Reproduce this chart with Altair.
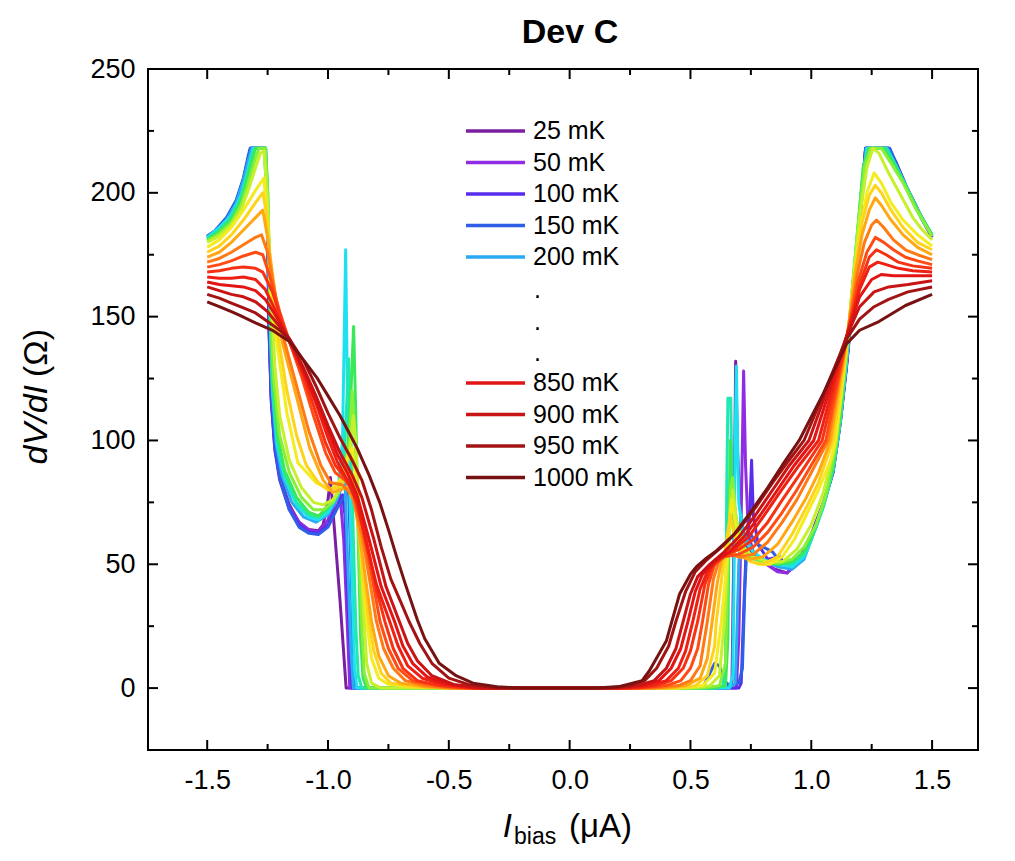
import altair as alt
import pandas as pd

# ---------------- data ----------------
TEMPS_MK = [25, 50, 100, 150, 200, 250, 300, 350, 400, 450, 500,
            550, 600, 650, 700, 750, 800, 850, 900, 950, 1000]
COLORS = ["#7b1fa2", "#8e2de2", "#5a2ded", "#2f5fe6", "#2aaaf2", "#1fe0f0",
          "#1fe8b0", "#3ae85a", "#86ef3a", "#c6f02c", "#f4ec1e", "#ffd21c",
          "#ffa814", "#ff7a14", "#ff4c14", "#f73214", "#ee2014", "#e31414",
          "#c81414", "#a21414", "#781212"]

C025 = [(-1.5,182),(-1.47,184),(-1.42,189),(-1.38,196),(-1.35,205),(-1.33,213),(-1.32,218),(-1.26,218),(-1.25,190),(-1.245,150),(-1.235,118),(-1.22,98),(-1.2,86),(-1.16,74),(-1.12,67),(-1.08,64),(-1.04,63.5),(-1.02,66),(-1.0,76),(-0.99,85),(-0.975,66),(-0.95,35),(-0.925,0),(0.66,0),(0.672,3),(0.68,60),(0.687,132),(0.695,95),(0.71,66),(0.73,58),(0.78,52),(0.85,48),(0.9,46.5),(0.95,52),(1.0,62),(1.05,75),(1.09,88),(1.12,108),(1.146,131),(1.17,155),(1.19,176),(1.21,201),(1.225,218),(1.32,218),(1.35,212),(1.394,202),(1.43,195),(1.46,189),(1.5,182)]
C050 = [(-1.5,182),(-1.47,184),(-1.42,189),(-1.38,196),(-1.35,205),(-1.33,214),(-1.32,218),(-1.26,218),(-1.25,188),(-1.245,148),(-1.235,117),(-1.22,97),(-1.2,85),(-1.16,73),(-1.12,67),(-1.08,64),(-1.04,63),(-1.0,68),(-0.97,75),(-0.95,78),(-0.935,60),(-0.92,25),(-0.91,0),(0.69,0),(0.7,20),(0.71,70),(0.72,128),(0.728,90),(0.74,62),(0.76,55),(0.8,51),(0.86,47),(0.9,46.5),(0.95,51),(1.0,61),(1.05,74),(1.09,87),(1.12,107),(1.146,130),(1.17,154),(1.19,174),(1.21,199),(1.225,218),(1.32,218),(1.35,212),(1.394,202),(1.43,195),(1.46,189),(1.5,182)]
C100 = [(-1.5,182.5),(-1.47,184.5),(-1.42,189.5),(-1.38,196.5),(-1.35,205.5),(-1.33,214),(-1.32,218),(-1.26,218),(-1.25,188),(-1.245,147),(-1.235,116),(-1.22,96),(-1.2,84),(-1.16,72),(-1.12,66),(-1.08,63),(-1.04,62.5),(-1.0,66),(-0.96,74),(-0.94,78),(-0.93,70),(-0.915,30),(-0.9,0),(0.7,0),(0.71,2),(0.72,30),(0.73,55),(0.745,70),(0.753,92),(0.76,70),(0.78,58),(0.82,52),(0.87,53),(0.9,49),(0.95,51),(1.0,61),(1.05,74),(1.09,87),(1.12,107),(1.146,130),(1.17,155),(1.19,175),(1.21,200),(1.225,218),(1.32,218),(1.35,212.5),(1.394,202.5),(1.43,195.5),(1.46,189.5),(1.5,182.5)]
C150 = [(-1.5,182.5),(-1.47,184.5),(-1.42,190),(-1.38,197),(-1.35,206),(-1.33,215),(-1.322,218),(-1.258,218),(-1.25,192),(-1.243,150),(-1.233,118),(-1.218,97),(-1.2,85),(-1.16,72),(-1.12,65),(-1.08,62.5),(-1.04,62),(-1.0,65),(-0.96,73),(-0.93,78),(-0.915,80),(-0.905,50),(-0.895,10),(-0.885,0),(0.55,0),(0.58,6),(0.6,10),(0.62,9),(0.64,3),(0.66,1),(0.7,2),(0.715,8),(0.725,40),(0.735,60),(0.75,62),(0.775,58),(0.8,57),(0.84,55),(0.88,50),(0.93,50),(0.98,56),(1.02,65),(1.06,77),(1.09,88),(1.12,108),(1.146,131),(1.17,156),(1.19,176),(1.21,201),(1.225,218),(1.325,218),(1.36,210),(1.4,201),(1.44,193),(1.47,188),(1.5,183)]
C200 = [(-1.5,182),(-1.47,184),(-1.42,189),(-1.38,196),(-1.35,205),(-1.33,213),(-1.315,218),(-1.26,218),(-1.25,192),(-1.24,150),(-1.23,120),(-1.215,99),(-1.19,86),(-1.15,75),(-1.1,69),(-1.05,67),(-1.0,70),(-0.96,77),(-0.94,82),(-0.93,85),(-0.92,55),(-0.905,15),(-0.895,0),(0.66,0),(0.685,2),(0.69,15),(0.7,50),(0.71,70),(0.72,63),(0.76,55),(0.8,52),(0.86,49),(0.92,48),(0.97,52),(1.0,60),(1.05,74),(1.09,88),(1.12,108),(1.146,132),(1.17,157),(1.19,177),(1.21,202),(1.228,218),(1.315,218),(1.35,211),(1.39,203),(1.43,195),(1.46,189),(1.5,183)]
C250 = [(-1.5,182),(-1.45,186),(-1.4,191),(-1.36,199),(-1.33,210),(-1.31,218),(-1.265,218),(-1.25,195),(-1.24,150),(-1.23,120),(-1.21,98),(-1.18,85),(-1.13,74),(-1.08,69),(-1.04,68),(-1.0,71),(-0.96,78),(-0.94,100),(-0.927,177),(-0.92,120),(-0.91,80),(-0.9,40),(-0.89,8),(-0.88,0),(0.66,0),(0.675,5),(0.68,40),(0.685,100),(0.69,130),(0.695,100),(0.7,75),(0.72,60),(0.76,55),(0.8,52),(0.86,50),(0.92,49),(0.97,53),(1.0,60),(1.05,74),(1.09,88),(1.12,108),(1.146,132),(1.17,157),(1.19,177),(1.21,203),(1.23,218),(1.31,218),(1.35,211),(1.39,203),(1.43,195),(1.46,189),(1.5,183)]
C300 = [(-1.5,181.5),(-1.45,185),(-1.4,190),(-1.36,198),(-1.33,209),(-1.305,218),(-1.26,218),(-1.25,200),(-1.24,155),(-1.23,122),(-1.21,100),(-1.18,86),(-1.13,75),(-1.08,70),(-1.04,69),(-1.0,72),(-0.96,78),(-0.935,90),(-0.92,120),(-0.915,133),(-0.905,100),(-0.895,60),(-0.885,25),(-0.875,5),(-0.86,0),(0.6,0),(0.635,1),(0.645,10),(0.65,80),(0.655,117),(0.667,117),(0.672,80),(0.685,62),(0.7,56),(0.74,53),(0.8,51),(0.86,50),(0.92,50),(0.97,54),(1.0,60),(1.05,73),(1.09,88),(1.12,108),(1.146,134),(1.17,160),(1.19,182),(1.215,210),(1.235,218),(1.31,218),(1.35,211),(1.39,203),(1.43,195),(1.46,189.5),(1.5,183)]
C350 = [(-1.5,181),(-1.45,184.5),(-1.4,189.5),(-1.36,197),(-1.33,207),(-1.3,218),(-1.258,218),(-1.25,202),(-1.24,158),(-1.228,124),(-1.21,103),(-1.18,88),(-1.13,77),(-1.08,71),(-1.04,69.5),(-1.0,73),(-0.95,80),(-0.92,95),(-0.905,120),(-0.894,146),(-0.885,110),(-0.875,60),(-0.865,20),(-0.855,4),(-0.84,0),(0.6,0),(0.645,1),(0.655,20),(0.66,70),(0.665,100),(0.672,80),(0.68,65),(0.7,57),(0.75,53),(0.8,51),(0.86,50),(0.92,51),(0.97,55),(1.0,61),(1.05,74),(1.09,89),(1.12,109),(1.146,135),(1.17,161),(1.19,183),(1.215,210),(1.24,218),(1.3,218),(1.34,212),(1.39,203),(1.43,195),(1.46,189.5),(1.5,183)]
C400 = [(-1.5,180.5),(-1.45,183.5),(-1.4,188),(-1.36,195),(-1.33,204),(-1.3,214),(-1.285,218),(-1.26,218),(-1.25,200),(-1.24,158),(-1.225,125),(-1.2,102),(-1.16,87),(-1.11,77),(-1.06,72),(-1.02,72),(-0.98,75),(-0.94,82),(-0.91,100),(-0.9,120),(-0.89,105),(-0.875,65),(-0.86,25),(-0.85,6),(-0.83,0),(0.55,0),(0.62,1),(0.645,10),(0.655,50),(0.665,80),(0.675,85),(0.685,72),(0.7,60),(0.74,54),(0.8,51),(0.86,50.5),(0.92,52),(0.97,57),(1.02,66),(1.06,78),(1.1,97),(1.146,136),(1.17,162),(1.195,188),(1.22,210),(1.245,218),(1.29,218),(1.33,212),(1.38,204),(1.43,194),(1.46,189),(1.5,182.5)]
C450 = [(-1.5,180),(-1.45,182.5),(-1.4,187),(-1.36,193),(-1.33,201),(-1.3,210),(-1.28,216),(-1.265,217),(-1.25,196),(-1.235,160),(-1.22,130),(-1.2,110),(-1.16,92),(-1.11,81),(-1.06,75),(-1.02,74),(-0.98,76),(-0.94,82),(-0.91,95),(-0.895,110),(-0.885,100),(-0.87,70),(-0.855,35),(-0.84,10),(-0.82,2),(-0.78,0),(0.5,0),(0.58,1),(0.62,5),(0.64,27),(0.655,55),(0.665,72),(0.675,80),(0.69,68),(0.72,57),(0.76,53),(0.82,51),(0.88,51),(0.94,56),(1.0,66),(1.05,79),(1.1,99),(1.146,137),(1.175,165),(1.2,190),(1.23,210),(1.255,218),(1.28,216),(1.32,208),(1.37,199),(1.42,190),(1.46,185),(1.5,181)]
C500 = [(-1.5,178),(-1.45,181),(-1.4,186),(-1.35,193),(-1.3,201),(-1.265,206),(-1.25,185),(-1.235,158),(-1.21,138),(-1.17,111),(-1.125,91),(-1.05,83),(-0.99,80),(-0.95,84),(-0.915,95),(-0.9,97),(-0.88,78),(-0.86,50),(-0.84,27),(-0.82,12),(-0.79,4),(-0.75,1.5),(-0.65,0.5),(-0.5,0),(0.45,0),(0.55,1),(0.6,6),(0.628,27),(0.645,45),(0.66,65),(0.67,76),(0.68,70),(0.7,58),(0.74,52),(0.78,50),(0.83,50),(0.88,53),(0.93,60),(0.98,70),(1.03,80),(1.08,92),(1.1,100),(1.146,137),(1.17,160),(1.2,184),(1.23,200),(1.26,208),(1.29,204),(1.33,196),(1.38,189),(1.44,183),(1.5,178.5)]
C550 = [(-1.5,176),(-1.45,178.5),(-1.4,183),(-1.35,189),(-1.3,196),(-1.27,200),(-1.255,192),(-1.24,170),(-1.22,150),(-1.2,138),(-1.17,120),(-1.13,102),(-1.09,90),(-1.04,83),(-1.0,80),(-0.96,81),(-0.92,88),(-0.9,85),(-0.87,62),(-0.85,42),(-0.83,27),(-0.81,15),(-0.78,6),(-0.74,2),(-0.65,0.5),(-0.5,0),(0.45,0),(0.52,1),(0.57,5),(0.6,17),(0.607,27),(0.63,45),(0.65,60),(0.665,70),(0.68,62),(0.71,54),(0.75,51),(0.8,50),(0.86,53),(0.92,62),(0.98,73),(1.03,83),(1.09,100),(1.146,138),(1.18,168),(1.21,188),(1.24,199),(1.265,203),(1.29,200),(1.33,193),(1.38,186),(1.44,180),(1.5,177)]
C600 = [(-1.5,174),(-1.45,176),(-1.4,180),(-1.35,185),(-1.3,190),(-1.27,193),(-1.25,182),(-1.22,160),(-1.19,140),(-1.13,117.5),(-1.076,97),(-1.02,84),(-0.98,79),(-0.923,81),(-0.89,75),(-0.86,55),(-0.82,27),(-0.79,13),(-0.75,5),(-0.7,2),(-0.6,0.5),(-0.5,0),(0.4,0),(0.48,1),(0.54,4),(0.57,12),(0.59,27),(0.61,42),(0.63,52),(0.66,56),(0.7,53),(0.75,52),(0.8,53),(0.86,58),(0.92,67),(0.98,77),(1.03,87),(1.08,100),(1.146,140),(1.18,166),(1.21,183),(1.24,193),(1.265,198),(1.29,195),(1.33,189),(1.38,183),(1.44,178),(1.5,175)]
C650 = [(-1.5,172),(-1.45,173.5),(-1.4,176),(-1.35,179),(-1.3,182),(-1.275,183),(-1.25,176),(-1.22,160),(-1.18,140),(-1.13,122),(-1.08,104),(-1.03,90),(-0.99,83),(-0.94,82),(-0.9,78),(-0.86,62),(-0.83,45),(-0.8,27),(-0.77,16),(-0.73,8),(-0.68,3),(-0.6,1),(-0.5,0),(0.35,0),(0.45,1),(0.5,3),(0.54,9),(0.57,27),(0.595,44),(0.62,52),(0.66,54),(0.7,53),(0.76,54),(0.82,59),(0.88,67),(0.94,76),(1.0,87),(1.07,100),(1.146,141),(1.19,167),(1.22,180),(1.25,187),(1.27,189),(1.3,186),(1.34,181),(1.39,177),(1.44,175),(1.5,173)]
C700 = [(-1.5,170),(-1.45,171),(-1.4,172.5),(-1.35,174.5),(-1.3,176),(-1.27,175),(-1.24,166),(-1.2,152),(-1.16,140),(-1.11,126),(-1.06,110),(-1.01,95),(-0.97,87),(-0.93,84),(-0.9,80),(-0.86,66),(-0.82,46),(-0.785,27),(-0.75,16),(-0.71,8),(-0.65,3),(-0.55,1),(-0.45,0),(0.3,0),(0.4,1),(0.46,3),(0.5,8),(0.53,16),(0.55,27),(0.575,42),(0.6,50),(0.64,53),(0.7,54),(0.76,57),(0.82,63),(0.88,71),(0.94,80),(1.0,90),(1.06,100),(1.146,141),(1.19,163),(1.23,176),(1.265,182),(1.3,180),(1.34,177),(1.39,174),(1.44,172.5),(1.5,171)]
C750 = [(-1.5,168),(-1.45,168.5),(-1.4,169.5),(-1.35,170),(-1.3,169.5),(-1.27,168),(-1.23,160),(-1.19,148),(-1.16,140),(-1.11,128),(-1.06,114),(-1.01,99),(-0.97,90),(-0.93,85),(-0.89,79),(-0.85,64),(-0.8,40),(-0.765,27),(-0.73,16),(-0.69,8),(-0.63,3),(-0.53,1),(-0.42,0),(0.28,0),(0.36,1),(0.42,3),(0.47,8),(0.5,15),(0.53,27),(0.56,42),(0.59,49),(0.63,53),(0.7,56),(0.76,60),(0.82,67),(0.88,76),(0.95,86),(1.045,100),(1.146,141),(1.2,163),(1.24,174),(1.27,177),(1.31,175),(1.36,172),(1.42,170.5),(1.5,169.5)]
C800 = [(-1.5,166),(-1.45,165.5),(-1.4,165.5),(-1.35,166),(-1.3,165),(-1.26,161),(-1.22,153),(-1.19,146),(-1.16,140),(-1.1,127),(-1.05,115),(-1.0,101),(-0.96,91),(-0.92,84),(-0.88,75),(-0.84,58),(-0.8,42),(-0.745,27),(-0.71,17),(-0.67,9),(-0.61,4),(-0.52,1.5),(-0.4,0),(0.25,0),(0.33,1),(0.4,3),(0.45,8),(0.48,15),(0.51,27),(0.54,40),(0.57,47),(0.61,52),(0.68,56),(0.74,61),(0.8,69),(0.87,79),(0.95,90),(1.03,100),(1.146,142),(1.2,161),(1.24,170),(1.275,172),(1.31,171),(1.36,169.5),(1.42,168.5),(1.5,168)]
C850 = [(-1.5,164),(-1.45,163),(-1.4,162.5),(-1.35,162),(-1.3,160.5),(-1.26,157),(-1.22,151),(-1.16,141),(-1.1,128),(-1.05,116),(-1.0,104),(-0.96,94),(-0.92,87),(-0.88,78),(-0.83,60),(-0.78,41),(-0.725,27),(-0.69,17),(-0.65,10),(-0.59,4.5),(-0.5,1.5),(-0.38,0),(0.22,0),(0.3,1),(0.37,3),(0.42,8),(0.46,16),(0.49,27),(0.52,39),(0.55,46),(0.6,51),(0.66,55),(0.72,61),(0.79,70),(0.86,80),(0.93,90),(1.01,100),(1.146,142),(1.2,158),(1.25,165),(1.29,167),(1.34,166.5),(1.42,166.5),(1.5,166.5)]
C900 = [(-1.5,162),(-1.45,160.5),(-1.4,159),(-1.35,158),(-1.3,156),(-1.25,152),(-1.2,146),(-1.16,141),(-1.1,129),(-1.05,118),(-1.0,106),(-0.95,95),(-0.9,86),(-0.86,77),(-0.81,60),(-0.76,41),(-0.705,27),(-0.67,18),(-0.63,11),(-0.57,5),(-0.48,1.5),(-0.36,0),(0.2,0),(0.28,1),(0.35,3),(0.4,8),(0.44,16),(0.47,27),(0.5,38),(0.53,45),(0.58,50),(0.64,55),(0.7,61),(0.77,70),(0.84,80),(0.91,90),(0.99,100),(1.146,142),(1.2,154),(1.26,160),(1.32,162),(1.4,163),(1.5,164.5)]
C950 = [(-1.5,159),(-1.45,157.5),(-1.4,155.5),(-1.35,153.5),(-1.3,151.5),(-1.25,148),(-1.2,144.5),(-1.16,141),(-1.1,132),(-1.05,122),(-1.0,111),(-0.95,101),(-0.9,92),(-0.86,84),(-0.82,72),(-0.78,57),(-0.74,44),(-0.7,35),(-0.665,27),(-0.62,18),(-0.57,10),(-0.5,4),(-0.42,1.5),(-0.3,0),(0.15,0),(0.25,1),(0.31,3),(0.36,8),(0.41,17),(0.44,27),(0.48,39),(0.52,47),(0.57,52),(0.63,57),(0.7,64),(0.77,73),(0.84,83),(0.9,91),(0.97,100),(1.146,141),(1.2,149),(1.26,154),(1.32,157),(1.4,160),(1.5,162)]
C1000 = [(-1.5,156),(-1.45,154),(-1.4,152),(-1.365,150.5),(-1.3,147.5),(-1.23,144.5),(-1.16,140),(-1.09,131),(-1.047,125.5),(-1.0,118),(-0.95,110),(-0.88,97),(-0.83,86),(-0.786,75),(-0.75,64),(-0.716,53),(-0.68,42),(-0.63,27.5),(-0.6,20),(-0.54,10),(-0.47,5),(-0.4,2),(-0.3,0.5),(-0.2,0),(0.1,0),(0.2,0.5),(0.3,3),(0.33,7),(0.4,19),(0.455,38),(0.5,46),(0.525,49),(0.56,52),(0.608,55.5),(0.68,62),(0.745,70.5),(0.82,81),(0.88,90),(0.95,100),(1.05,119),(1.146,139),(1.2,144.5),(1.28,148),(1.39,154.5),(1.5,159)]

CURVES = [C025, C050, C100, C150, C200, C250, C300, C350, C400, C450, C500,
          C550, C600, C650, C700, C750, C800, C850, C900, C950, C1000]

X_MAJOR = [-1.5, -1.0, -0.5, 0.0, 0.5, 1.0, 1.5]
X_MINOR = [-1.25, -0.75, -0.25, 0.25, 0.75, 1.25]
Y_MAJOR = [0, 50, 100, 150, 200, 250]
Y_MINOR = [25, 75, 125, 175, 225]

LEGEND_TOP = ["25 mK", "50 mK", "100 mK", "150 mK", "200 mK"]
LEGEND_TOP_COLORS = ["#7b1fa2", "#8e2de2", "#5a2ded", "#2f5fe6", "#2aaaf2"]
LEGEND_BOTTOM = ["850 mK", "900 mK", "950 mK", "1000 mK"]
LEGEND_BOTTOM_COLORS = ["#e31414", "#c81414", "#a21414", "#781212"]

# ---------------- build ----------------
labels = [f"{t} mK" for t in TEMPS_MK]
rows = []
for lab, pts in zip(labels, CURVES):
    for i, (x, y) in enumerate(pts):
        rows.append({"T": lab, "i": i, "x": x, "y": y})
df = pd.DataFrame(rows)

W, H = 830, 681
FONT = "Liberation Sans"

XS = alt.Scale(domain=[-1.745, 1.69], nice=False, zero=False)
YS = alt.Scale(domain=[-25, 250], nice=False, zero=False)
XA = alt.Axis(values=X_MAJOR, ticks=False, tickSize=0, domain=False, grid=False,
              labelExpr="datum.value < 0 ? '-' + format(-datum.value, '.1f') : format(datum.value, '.1f')",
              labelFontSize=27, labelFont=FONT, labelColor="black", labelPadding=17,
              title=None)
YA = alt.Axis(values=Y_MAJOR, ticks=False, tickSize=0, domain=False, grid=False,
              format="d", labelFontSize=27, labelFont=FONT, labelColor="black",
              labelPadding=13, title=None)

lines = alt.Chart(df).mark_line(strokeWidth=3, strokeJoin="round").encode(
    x=alt.X("x:Q", scale=XS, axis=XA),
    y=alt.Y("y:Q", scale=YS, axis=YA),
    color=alt.Color("T:N", scale=alt.Scale(domain=labels, range=COLORS), legend=None),
    detail="T:N",
    order="i:Q",
)

layers = [lines]

def xticks(vals, length):
    d = pd.DataFrame({"x": vals})
    out = []
    for y0, y1 in [(H, H - length), (0, length)]:
        out.append(alt.Chart(d).mark_rule(color="black", strokeWidth=2).encode(
            x=alt.X("x:Q", scale=XS, axis=XA), y=alt.value(y0), y2=alt.value(y1)))
    return out

def yticks(vals, length):
    d = pd.DataFrame({"y": vals})
    out = []
    for x0, x1 in [(0, length), (W, W - length)]:
        out.append(alt.Chart(d).mark_rule(color="black", strokeWidth=2).encode(
            y=alt.Y("y:Q", scale=YS, axis=YA), x=alt.value(x0), x2=alt.value(x1)))
    return out

layers += xticks(X_MAJOR, 10) + xticks(X_MINOR, 6)
layers += yticks(Y_MAJOR, 10) + yticks(Y_MINOR, 6)

one = pd.DataFrame({"k": [0]})

def text(t, x, y, size, **kw):
    return alt.Chart(pd.DataFrame({"t": [t]})).mark_text(
        font=FONT, fontSize=size, color="black", **kw
    ).encode(text="t:N", x=alt.value(x), y=alt.value(y))

# legend
LX0, LX1, TX = 318, 377, 385
for k, (lab, col) in enumerate(zip(LEGEND_TOP, LEGEND_TOP_COLORS)):
    yy = 62 + 31.5 * k
    layers.append(alt.Chart(one).mark_rule(color=col, strokeWidth=3.5).encode(
        x=alt.value(LX0), x2=alt.value(LX1), y=alt.value(yy)))
    layers.append(text(lab, TX, yy, 25, align="left", baseline="middle"))
for k in range(3):
    yy = 226 + 31.5 * k
    layers.append(text(".", TX + 1, yy + 3, 25, align="left", baseline="alphabetic"))
for k, (lab, col) in enumerate(zip(LEGEND_BOTTOM, LEGEND_BOTTOM_COLORS)):
    yy = 314 + 31.5 * k
    layers.append(alt.Chart(one).mark_rule(color=col, strokeWidth=3.5).encode(
        x=alt.value(LX0), x2=alt.value(LX1), y=alt.value(yy)))
    layers.append(text(lab, TX, yy, 25, align="left", baseline="middle"))

# title
layers.append(text("Dev C", 422, -26, 34, align="center", baseline="alphabetic", fontWeight="bold"))

# x axis title: I_bias (μA)
layers.append(text("I", 364, 768, 33, align="right", baseline="alphabetic", fontStyle="italic"))
layers.append(text("bias", 366, 775, 23, align="left", baseline="alphabetic"))
layers.append(text("(μA)", 421, 768, 33, align="left", baseline="alphabetic"))

# y axis title: dV/dI (Ω)
layers.append(text("dV/dI", -101, 316, 34, align="right", baseline="alphabetic", angle=270, fontStyle="italic"))
layers.append(text("(Ω)", -101, 308, 34, align="left", baseline="alphabetic", angle=270))

chart = alt.layer(*layers).properties(
    width=W, height=H,
    autosize=alt.AutoSizeParams(type="none"),
    padding={"left": 140, "top": 61, "right": 20, "bottom": 103},
    background="white",
).configure_view(stroke="black", strokeWidth=2)

chart.save("out.html", embed_options={"renderer": "svg", "actions": False})
